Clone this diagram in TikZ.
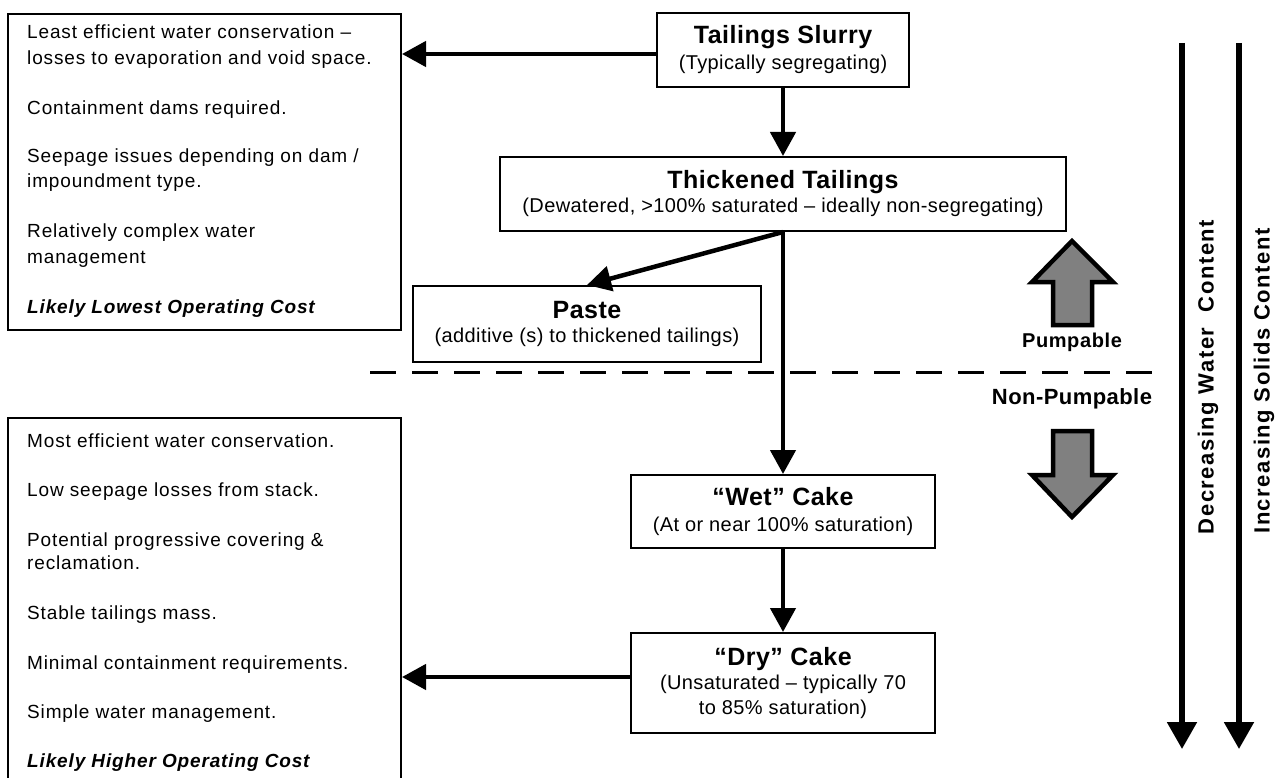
\documentclass[tikz,border=0pt]{standalone}
\usepackage{fontspec}
\setmainfont{Liberation Sans}
\newfontfamily\bodyfont[LetterSpace=4.5]{Liberation Sans}
\newfontfamily\subfont[LetterSpace=2]{Liberation Sans}
\newfontfamily\labfont[LetterSpace=7]{Liberation Sans}
\newfontfamily\pumpfont[LetterSpace=3]{Liberation Sans}
\newfontfamily\npumpfont[LetterSpace=2]{Liberation Sans}
\newcommand\ttlfont{\fontsize{25}{26}\selectfont\bfseries}
\usetikzlibrary{arrows.meta}
\begin{document}
\begin{tikzpicture}[x=1pt,y=-1pt,
  box/.style={draw, line width=2pt, inner sep=0pt, align=center},
  sidebox/.style={draw, line width=2pt, anchor=north west, inner sep=0pt, minimum width=393pt},
  bt/.style={anchor=base west, inner sep=0pt, font=\bodyfont\fontsize{19}{22}\selectfont},
  flow/.style={line width=4.5pt, -{Triangle[length=24pt,width=25pt]}},
  bigflow/.style={line width=5.3pt, -{Triangle[length=27pt,width=29pt]}},
  blockarrow/.style={draw, line width=4.5pt, fill=black!50, line join=miter},
  sidelabel/.style={rotate=90, inner sep=0pt, font=\labfont\fontsize{22}{24}\selectfont\bfseries}
]
\useasboundingbox[fill=white] (0,0) rectangle (1288,778);

% side boxes
\node[sidebox, minimum height=316pt] (L1) at (7,13) {};
\node[sidebox, minimum height=400pt] (L2) at (7,417) {};

% top-left text
\node[bt] (t1) at (27,39) {Least efficient water conservation –};
\node[bt] (t2) at (27,65) {losses to evaporation and void space.};
\node[bt] (t3) at (27,115) {Containment dams required.};
\node[bt] (t4) at (27,163) {Seepage issues depending on dam /};
\node[bt] (t5) at (27,188) {impoundment type.};
\node[bt] (t6) at (27,238) {Relatively complex water};
\node[bt] (t7) at (27,263) {management};
\node[bt] (t8) at (27,313) {\bfseries\itshape Likely Lowest Operating Cost};

% bottom-left text
\node[bt] (b1) at (27,447) {Most efficient water conservation.};
\node[bt] (b2) at (27,496) {Low seepage losses from stack.};
\node[bt] (b3) at (27,546) {Potential progressive covering \&};
\node[bt] (b4) at (27,569) {reclamation.};
\node[bt] (b5) at (27,619) {Stable tailings mass.};
\node[bt] (b6) at (27,669) {Minimal containment requirements.};
\node[bt] (b7) at (27,718) {Simple water management.};
\node[bt] (b8) at (27,767) {\bfseries\itshape Likely Higher Operating Cost};

% flow boxes
\node[box, minimum width=252pt, minimum height=74pt, font=\subfont\fontsize{20}{26}\selectfont] (TS) at (783,50)
  {{\ttlfont Tailings Slurry}\\(Typically segregating)};
\node[box, minimum width=566pt, minimum height=74pt, font=\subfont\fontsize{20}{24}\selectfont] (TT) at (783,194)
  {{\ttlfont Thickened Tailings}\\(Dewatered, >100\% saturated – ideally non-segregating)};
\node[box, minimum width=348pt, minimum height=76pt, font=\subfont\fontsize{20}{24}\selectfont] (PA) at (587,324)
  {{\ttlfont Paste}\\(additive (s) to thickened tailings)};
\node[box, minimum width=304pt, minimum height=73pt, font=\subfont\fontsize{20}{26}\selectfont] (WC) at (783,511.5)
  {{\ttlfont “Wet” Cake}\\(At or near 100\% saturation)};
\node[box, minimum width=304pt, minimum height=100pt, font=\subfont\fontsize{20}{24.5}\selectfont] (DC) at (783,683)
  {{\ttlfont “Dry” Cake}\\(Unsaturated – typically 70\\to 85\% saturation)};

% connectors
\coordinate (a1) at ([yshift=-4pt]TS.west);
\draw[flow] (a1) -- (a1 -| L1.east);
\draw[flow] (TS.south) -- (TT.north);
\draw[flow] (TT.south) -- (PA.north);
\draw[flow] (TT.south) -- (WC.north);
\draw[flow] (WC.south) -- (DC.north);
\coordinate (a2) at ([yshift=6pt]DC.west);
\draw[flow] (a2) -- (a2 -| L2.east);

% pumpable divider
\draw[line width=3pt, dash pattern=on 26pt off 16pt] (370,372) -- (1152,372);

% block arrows
\draw[blockarrow] (1053,325) -- (1053,282) -- (1032,282) -- (1072,241) -- (1113,282) -- (1092,282) -- (1092,325) -- cycle;
\draw[blockarrow] (1053,431) -- (1092,431) -- (1092,475) -- (1113,475) -- (1072,517) -- (1032,475) -- (1053,475) -- cycle;
\node[anchor=base, inner sep=0pt, font=\pumpfont\fontsize{20}{22}\selectfont\bfseries] (pump) at (1072,347) {Pumpable};
\node[anchor=base, inner sep=0pt, font=\npumpfont\fontsize{22}{24}\selectfont\bfseries] (npump) at (1072,404) {Non-Pumpable};

% side arrows
\coordinate (w0) at (1182,43);
\coordinate (w1) at (1182,749);
\coordinate (s0) at (1239,43);
\coordinate (s1) at (1239,749);
\draw[bigflow] (w0) -- (w1);
\draw[bigflow] (s0) -- (s1);
\node[sidelabel] (wl) at (1208,377) {Decreasing Water\ \ Content};
\node[sidelabel] (sl) at (1264,381) {Increasing Solids Content};
\end{tikzpicture}
\end{document}
